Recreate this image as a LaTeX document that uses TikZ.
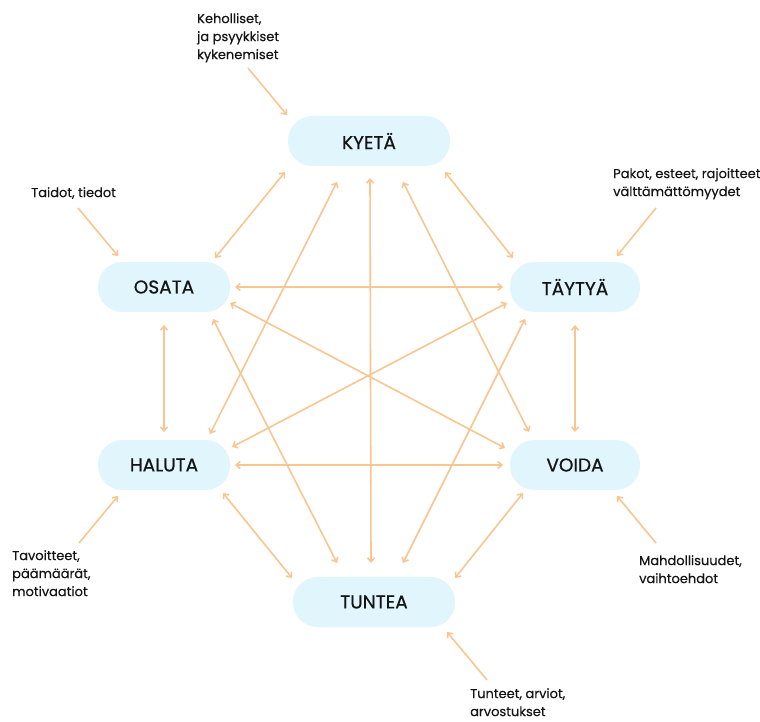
\documentclass[tikz,border=0pt]{standalone}
\usepackage{fontspec}
\setmainfont{Poppins}
\newfontfamily\conceptfont[FakeBold=0.6]{Poppins}
\newfontfamily\notefont[FakeBold=0.25]{Poppins}
\usetikzlibrary{arrows.meta,calc}
\definecolor{pill}{HTML}{E1F5FC}
\definecolor{linkc}{HTML}{F8C690}
\definecolor{ink}{HTML}{141414}
\tikzset{
  concept/.style={rectangle, rounded corners=24.5pt, fill=pill, minimum height=50pt,
    inner sep=0pt, font=\conceptfont\fontsize{18.5}{22}\selectfont, text=ink},
  conn/.style={draw=linkc, line width=1.6pt, {Straight Barb[length=4pt,width=7pt]}-{Straight Barb[length=4pt,width=7pt]}},
  feed/.style={draw=linkc, line width=1.6pt, -{Straight Barb[length=4pt,width=7pt]}},
  note/.style={align=left, inner sep=0pt, anchor=north west,
    font=\notefont\fontsize{13}{18}\selectfont, text=ink}
}
\begin{document}
\begin{tikzpicture}[x=1pt,y=-1pt]
\fill[white] (0,0) rectangle (760,722);
\useasboundingbox (0,0) rectangle (760,722);

% concept nodes
\node[concept, minimum width=162pt] (ky) at (369,141) {KYETÄ};
\node[concept, minimum width=132pt] (os) at (164,287) {OSATA};
\node[concept, minimum width=130pt] (ta) at (575,287) {TÄYTYÄ};
\node[concept, minimum width=132pt] (ha) at (164,465) {HALUTA};
\node[concept, minimum width=130pt] (vo) at (575,465) {VOIDA};
\node[concept, minimum width=162pt] (tu) at (374,602) {TUNTEA};

% mutual links
\draw[conn] ($(ky)+(-84,31)$) -- ($(os)+(51,-29)$);
\draw[conn] ($(ky)+(76,31)$) -- ($(ta)+(-62,-29)$);
\draw[conn] ($(ky)+(-32,41)$) -- ($(ha)+(46,-31)$);
\draw[conn] ($(ky)+(34,41)$) -- ($(vo)+(-46,-33)$);
\draw[conn] ($(ky)+(1,37)$) -- ($(tu)+(-3,-39)$);
\draw[conn] ($(os)+(71,0)$) -- ($(ta)+(-72,0)$);
\draw[conn] ($(os)+(0,38)$) -- ($(ha)+(0,-33)$);
\draw[conn] ($(os)+(66,16)$) -- ($(vo)+(-70,-17)$);
\draw[conn] ($(os)+(49,32)$) -- ($(tu)+(-37,-39)$);
\draw[conn] ($(ta)+(-68,16)$) -- ($(ha)+(68,-18)$);
\draw[conn] ($(ta)+(0,38)$) -- ($(vo)+(0,-33)$);
\draw[conn] ($(ta)+(-50,32)$) -- ($(tu)+(29,-39)$);
\draw[conn] ($(ha)+(71,0)$) -- ($(vo)+(-72,0)$);
\draw[conn] ($(ha)+(59,28)$) -- ($(tu)+(-82,-24)$);
\draw[conn] ($(vo)+(-52,28)$) -- ($(tu)+(81,-24)$);

% notes
\node[note] (nky) at (197,13) {Keholliset,\\ja psyykkiset\\kykenemiset};
\node[note] (nos) at (31,187) {Taidot, tiedot};
\node[note] (nta) at (613,168) {Pakot, esteet, rajoitteet\\välttämättömyydet};
\node[note] (nha) at (12,550) {Tavoitteet,\\päämäärät,\\motivaatiot};
\node[note] (nvo) at (639,555) {Mahdollisuudet,\\vaihtoehdot};
\node[note] (ntu) at (470,688) {Tunteet, arviot,\\arvostukset};

\coordinate (cky) at (248,68);
\coordinate (cos) at (78,208);
\coordinate (cta) at (656,208);
\coordinate (cha) at (79,543);
\coordinate (cvo) at (656,543);
\coordinate (ctu) at (487,680);

\draw[feed] (cky) -- ($(ky)+(-82,-26)$);
\draw[feed] (cos) -- ($(os)+(-46,-31)$);
\draw[feed] (cta) -- ($(ta)+(42,-31)$);
\draw[feed] (cha) -- ($(ha)+(-46,31)$);
\draw[feed] (cvo) -- ($(vo)+(42,31)$);
\draw[feed] (ctu) -- ($(tu)+(73,30)$);
\end{tikzpicture}
\end{document}
